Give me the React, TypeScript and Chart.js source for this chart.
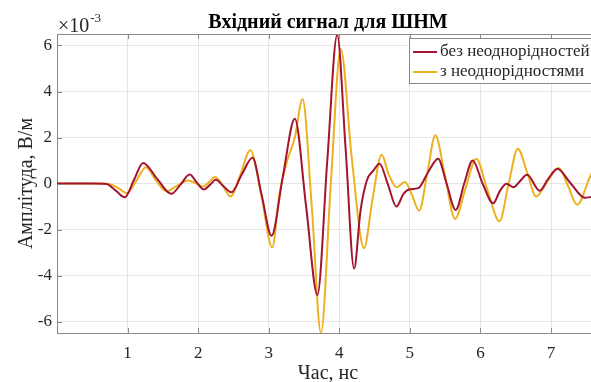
import React, { useEffect, useRef } from "react";
import { Chart, registerables } from "chart.js";

Chart.register(...registerables);

// Time axis, ns
const redTime = [
  0, 0.5, 0.7, 0.83, 0.96, 1.09, 1.22, 1.42, 1.62, 1.75, 1.88, 1.98, 2.08, 2.17, 2.25, 2.36, 2.47, 2.62,
  2.77, 2.9, 3.04, 3.2, 3.37, 3.53, 3.69, 3.83, 3.97, 4.09, 4.21, 4.3, 4.39, 4.48, 4.57, 4.69, 4.81, 4.91,
  5.0, 5.12, 5.26, 5.4, 5.52, 5.65, 5.77, 5.89, 6.03, 6.18, 6.28, 6.37, 6.47, 6.56, 6.66, 6.84, 6.96, 7.09,
  7.28, 7.48, 7.68,
];
// Amplitude, x10^-3 V/m
const redAmp = [
  0, 0, -0.02, -0.3, -0.6, 0.15, 0.89, 0.2, -0.45, -0.05, 0.39, 0.05, -0.26, -0.05, 0.16, -0.12, -0.38, 0.4,
  1.12, -0.5, -2.27, 0.3, 2.82, -1.0, -4.85, 1.0, 6.46, 1.5, -3.7, -1.2, 0.13, 0.55, 0.86, -0.05, -1.0, -0.45,
  -0.25, -0.2, 0.5, 1.08, 0.0, -1.15, 0.0, 1.0, 0.0, -0.86, -0.3, -0.01, -0.16, 0.1, 0.38, -0.31, 0.2, 0.64,
  0.0, -0.62, -0.5,
];

const yellowTime = [
  0, 0.6, 0.75, 0.87, 0.99, 1.12, 1.26, 1.4, 1.55, 1.7, 1.86, 1.97, 2.07, 2.15, 2.24, 2.35, 2.46, 2.6,
  2.74, 2.9, 3.05, 3.15, 3.25, 3.37, 3.48, 3.61, 3.74, 3.88, 4.02, 4.18, 4.35, 4.47, 4.6, 4.7, 4.81, 4.93,
  5.03, 5.13, 5.25, 5.36, 5.5, 5.64, 5.79, 5.94, 6.1, 6.27, 6.4, 6.53, 6.66, 6.79, 6.95, 7.11, 7.24, 7.37,
  7.56, 7.68,
];
const yellowAmp = [
  0, 0, -0.03, -0.2, -0.42, 0.1, 0.71, 0.15, -0.34, -0.1, 0.13, 0.0, -0.13, 0.05, 0.28, -0.1, -0.57, 0.4,
  1.45, -0.6, -2.78, -0.5, 0.87, 2.0, 3.67, -1.0, -6.5, 0.0, 5.84, 1.0, -2.81, -0.7, 1.25, 0.4, -0.16, 0.06,
  -0.5, -1.18, 0.5, 2.1, 0.3, -1.54, -0.2, 1.08, -0.3, -1.64, 0.0, 1.51, 0.5, -0.57, 0.1, 0.67, -0.1, -0.92,
  0.35, 1.0,
];

const xTicks = [1, 2, 3, 4, 5, 6, 7];
const yTicks = [-6, -4, -2, 0, 2, 4, 6];

const seriesLabels = ["без неоднорідностей", "з неоднорідностями"];
const seriesColors = ["#A2142F", "#EDB120"];
const chartTitle = "Вхідний сигнал для ШНМ";
const xTitle = "Час, нс";
const yTitle = "Амплітуда, В/м";

const SERIF = "'Liberation Serif', 'Times New Roman', serif";
const AXIS_COLOR = "#8a8a8a";
const GRID_COLOR = "#e6e6e6";
const TEXT_COLOR = "#262626";

const decorations = {
  id: "decorations",
  afterDraw(chart: any) {
    const { ctx, chartArea } = chart;
    const { left, right, top, bottom } = chartArea;
    const xs = chart.scales.x;
    const ys = chart.scales.y;
    ctx.save();

    // top edge of the axes box
    ctx.strokeStyle = AXIS_COLOR;
    ctx.lineWidth = 1;
    ctx.beginPath();
    ctx.moveTo(left, top + 0.5);
    ctx.lineTo(right, top + 0.5);
    ctx.stroke();

    // inward tick marks
    ctx.beginPath();
    for (const t of xTicks) {
      const px = Math.round(xs.getPixelForValue(t)) + 0.5;
      ctx.moveTo(px, bottom);
      ctx.lineTo(px, bottom - 5);
      ctx.moveTo(px, top);
      ctx.lineTo(px, top + 5);
    }
    for (const v of yTicks) {
      const py = Math.round(ys.getPixelForValue(v)) + 0.5;
      ctx.moveTo(left, py);
      ctx.lineTo(left + 5, py);
    }
    ctx.stroke();

    // title
    const cx = (left + right) / 2;
    ctx.fillStyle = "#000";
    ctx.font = `bold 20px ${SERIF}`;
    ctx.textAlign = "center";
    ctx.textBaseline = "alphabetic";
    ctx.fillText(chartTitle, cx, 28);

    // x axis title
    ctx.fillStyle = TEXT_COLOR;
    ctx.font = `20px ${SERIF}`;
    ctx.fillText(xTitle, cx, 379);

    // y axis title
    ctx.save();
    ctx.translate(32, (top + bottom) / 2);
    ctx.rotate(-Math.PI / 2);
    ctx.textAlign = "center";
    ctx.fillText(yTitle, 0, 0);
    ctx.restore();

    // exponent label
    ctx.textAlign = "left";
    ctx.font = `20px ${SERIF}`;
    ctx.fillText("×10", left + 1, 32);
    const baseW = ctx.measureText("×10").width;
    ctx.font = `13px ${SERIF}`;
    ctx.fillText("-3", left + 2 + baseW, 22);

    // legend
    const lx = 409;
    const ly = 38;
    const lw = 188;
    const lh = 45;
    ctx.fillStyle = "#fff";
    ctx.fillRect(lx, ly, lw, lh);
    ctx.strokeStyle = AXIS_COLOR;
    ctx.strokeRect(lx + 0.5, ly + 0.5, lw, lh);
    ctx.font = `17px ${SERIF}`;
    ctx.textBaseline = "middle";
    seriesLabels.forEach((label, i) => {
      const y = ly + 14 + i * 20;
      ctx.strokeStyle = seriesColors[i];
      ctx.lineWidth = 2;
      ctx.beginPath();
      ctx.moveTo(lx + 4, y);
      ctx.lineTo(lx + 28, y);
      ctx.stroke();
      ctx.fillStyle = TEXT_COLOR;
      ctx.fillText(label, lx + 31, y);
    });

    ctx.restore();
  },
};

export default function App() {
  const canvasRef = useRef<HTMLCanvasElement | null>(null);

  useEffect(() => {
    const canvas = canvasRef.current;
    if (!canvas) return;
    const chart = new Chart(canvas, {
      type: "line",
      data: {
        datasets: [
          {
            label: seriesLabels[0],
            data: redTime.map((t, i) => ({ x: t, y: redAmp[i] })),
            borderColor: seriesColors[0],
            borderWidth: 2,
            pointRadius: 0,
            cubicInterpolationMode: "monotone",
            fill: false,
          },
          {
            label: seriesLabels[1],
            data: yellowTime.map((t, i) => ({ x: t, y: yellowAmp[i] })),
            borderColor: seriesColors[1],
            borderWidth: 2,
            pointRadius: 0,
            cubicInterpolationMode: "monotone",
            fill: false,
          },
        ],
      },
      options: {
        animation: false,
        responsive: false,
        devicePixelRatio: 1,
        layout: { padding: { top: 34, right: 11, left: 0, bottom: 0 } },
        plugins: {
          legend: { display: false },
          title: { display: false },
          tooltip: { enabled: false },
        },
        scales: {
          x: {
            type: "linear",
            min: 0,
            max: 7.68,
            afterBuildTicks: (scale: any) => {
              scale.ticks = xTicks.map((v) => ({ value: v }));
            },
            afterFit: (scale: any) => {
              scale.height = 49;
            },
            grid: { color: GRID_COLOR, drawTicks: false, lineWidth: 1 },
            border: { display: true, color: AXIS_COLOR, width: 1 },
            ticks: {
              padding: 10,
              color: TEXT_COLOR,
              font: { family: SERIF, size: 17 },
              maxRotation: 0,
              callback: (v: any) => String(v),
            },
          },
          y: {
            type: "linear",
            min: -6.5,
            max: 6.5,
            afterBuildTicks: (scale: any) => {
              scale.ticks = yTicks.map((v) => ({ value: v }));
            },
            afterFit: (scale: any) => {
              scale.width = 57;
            },
            grid: { color: GRID_COLOR, drawTicks: false, lineWidth: 1 },
            border: { display: true, color: AXIS_COLOR, width: 1 },
            ticks: {
              padding: 5,
              color: TEXT_COLOR,
              font: { family: SERIF, size: 17 },
              callback: (v: any) => String(v),
            },
          },
        },
      },
      plugins: [decorations],
    });
    return () => chart.destroy();
  }, []);

  return (
    <div
      style={{
        position: "fixed",
        left: 0,
        top: 0,
        width: 591,
        height: 382,
        overflow: "hidden",
        background: "#fff",
      }}
    >
      <canvas ref={canvasRef} width={610} height={382} style={{ display: "block", width: 610, height: 382 }} />
    </div>
  );
}
